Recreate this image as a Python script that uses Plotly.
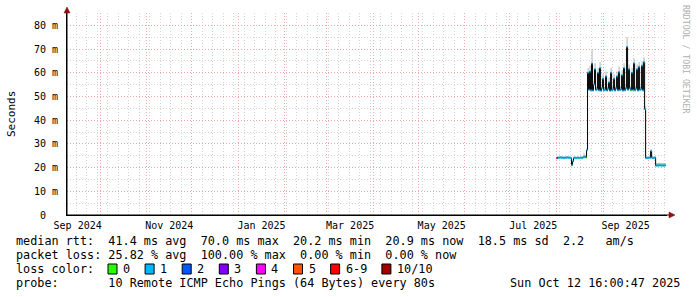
import pandas as pd
import plotly.graph_objects as go

# ---------------- data ----------------
start_time = "2025-08-01 00:00"
step_hours = 16

median_ms = [
    24.0, 24.2, 24.1, 24.2, 24.3, 24.1, 24.2, 24.0, 24.2, 24.1, 24.3, 24.2, 24.1, 24.2, 24.0,
    21.0, 22.6, 24.1, 24.2, 24.0, 24.1, 24.2, 24.0, 24.1, 24.2, 24.0, 24.3, 24.4, 24.6, 24.2, 27.4,
    60.0, 52.8, 60.5, 52.6, 63.9, 52.5, 55.0, 61.5, 52.7, 53.0, 60.0, 52.6, 62.0, 52.4, 53.5,
    57.5, 52.6, 52.8, 58.5, 52.5, 53.2, 56.0, 52.4, 60.0, 52.6, 53.0, 57.5, 52.5, 53.4, 58.5,
    52.6, 60.3, 52.7, 53.0, 59.0, 52.5, 62.0, 52.6, 53.5, 70.9, 52.8, 61.5, 53.4, 52.6, 60.0,
    52.7, 64.0, 52.6, 53.2, 61.5, 52.5, 62.5, 52.8, 53.0, 63.0, 52.6, 64.5, 44.6,
    24.0, 24.1, 24.0, 24.2, 24.1, 27.0, 24.2, 24.0, 24.1, 24.2,
    20.8, 20.9, 20.8, 21.0, 20.9, 20.8, 20.9, 20.8, 20.9, 20.9,
]

smoke_hi_ms = [
    24.6, 24.7, 24.6, 24.7, 24.8, 24.6, 24.7, 24.5, 24.7, 24.6, 24.8, 24.7, 24.6, 24.7, 24.5,
    22.0, 23.4, 24.6, 24.7, 24.5, 24.6, 24.7, 24.5, 24.6, 24.7, 24.5, 24.9, 26.0, 25.2, 24.8, 28.2,
    62.0, 54.0, 63.0, 54.0, 69.5, 54.0, 56.5, 64.0, 54.0, 54.5, 62.0, 54.0, 64.5, 54.0, 55.0,
    59.5, 54.0, 54.0, 60.5, 54.0, 54.5, 58.0, 54.0, 62.0, 54.0, 54.5, 59.5, 54.0, 54.5, 60.5,
    54.0, 62.5, 54.0, 54.5, 61.0, 54.0, 64.0, 54.0, 55.0, 75.0, 54.0, 63.5, 54.5, 54.0, 62.0,
    54.0, 66.0, 54.0, 54.5, 63.5, 54.0, 64.5, 54.0, 54.5, 65.0, 54.0, 66.5, 46.0,
    24.6, 24.7, 24.6, 24.8, 24.7, 27.8, 24.8, 24.6, 24.7, 24.8,
    21.8, 21.9, 21.8, 22.0, 21.9, 21.8, 21.9, 21.8, 21.9, 21.9,
]

# index into loss_labels for every step
loss_class = [
    7, 1, 1, 1, 1, 1, 1, 1, 1, 1, 1, 1, 1, 1, 1,
    1, 1, 1, 1, 1, 1, 1, 0, 1, 1, 1, 1, 1, 1, 0, 1,
    1, 1, 1, 1, 1, 1, 1, 1, 1, 1, 1, 1, 1, 1, 1,
    1, 1, 1, 1, 1, 1, 1, 1, 1, 1, 1, 1, 1, 1, 1,
    1, 1, 1, 1, 1, 1, 1, 1, 1, 1, 1, 1, 1, 0, 1,
    1, 1, 1, 1, 1, 1, 1, 1, 1, 1, 1, 1, 1,
    1, 1, 1, 1, 1, 1, 1, 1, 1, 1,
    1, 1, 1, 1, 1, 0, 1, 1, 1, 1,
]

loss_labels = ["0", "1", "2", "3", "4", "5", "6-9", "10/10"]
loss_colors = ["#26ff00", "#00b8ff", "#0059ff", "#7e00ff", "#ff00ff", "#ff5500", "#ff0000", "#a10000"]

y_tickvals = [0, 10, 20, 30, 40, 50, 60, 70, 80]
y_ticktext = ["0  ", "10 m", "20 m", "30 m", "40 m", "50 m", "60 m", "70 m", "80 m"]

x_label_months = ["2024-09-01", "2024-11-01", "2025-01-01", "2025-03-01",
                  "2025-05-01", "2025-07-01", "2025-09-01"]
x_label_text = ["Sep 2024", "Nov 2024", "Jan 2025", "Mar 2025", "May 2025", "Jul 2025", "Sep 2025"]

x_range = ["2024-09-08 22:00", "2025-10-13 14:00"]
y_range = [0, 85.2]

legend_rtt = "median rtt:  41.4 ms avg  70.0 ms max  20.2 ms min  20.9 ms now  18.5 ms sd  2.2   am/s"
legend_loss = "packet loss: 25.82 % avg  100.00 % max  0.00 % min  0.00 % now"
legend_color = "loss color:"
legend_probe = "probe:       10 Remote ICMP Echo Pings (64 Bytes) every 80s"
stamp_text = "Sun Oct 12 16:00:47 2025"
watermark = "RRDTOOL / TOBI OETIKER"

# ---------------- layout geometry (pixels) ----------------
W, H = 697, 297
L, T = 67, 13
PW, PH = 600, 202
R, B = W - L - PW, H - T - PH

def px_x(px):
    return (px - L) / PW

def px_y(py):
    return (T + PH - py) / PH

MONO = "DejaVu Sans Mono"

# ---------------- build traces ----------------
step = pd.Timedelta(hours=step_hours)
times = pd.date_range(start_time, periods=len(median_ms), freq=f"{step_hours}h")
times_ext = list(times) + [times[-1] + step]
med_ext = median_ms + [median_ms[-1]]
smoke_ext = smoke_hi_ms + [smoke_hi_ms[-1]]

fig = go.Figure()

# smoke (lower bound invisible, upper filled)
fig.add_trace(go.Scatter(x=times_ext, y=med_ext, mode="lines", line=dict(width=0, shape="hv"),
                         hoverinfo="skip", showlegend=False))
fig.add_trace(go.Scatter(x=times_ext, y=smoke_ext, mode="lines", line=dict(width=0, shape="hv"),
                         fill="tonexty", fillcolor="#b4b4b4", hoverinfo="skip", showlegend=False))

# black step line of the median
fig.add_trace(go.Scatter(x=times_ext, y=med_ext, mode="lines",
                         line=dict(color="#000000", width=1, shape="hv"),
                         hoverinfo="skip", showlegend=False))

# loss coloured median bands (horizontal pieces only)
for c, col in enumerate(loss_colors):
    xs, ys = [], []
    for i, v in enumerate(median_ms):
        if loss_class[i] == c:
            xs += [times[i], times[i] + step, None]
            ys += [v, v, None]
    if xs:
        fig.add_trace(go.Scatter(x=xs, y=ys, mode="lines", line=dict(color=col, width=2.2),
                                 hoverinfo="skip", showlegend=False))

# x label positions at mid-month
label_pos = []
for m in x_label_months:
    s = pd.Timestamp(m)
    e = s + pd.offsets.MonthBegin(1)
    label_pos.append(s + (e - s) / 2)

GRID_MAJOR = "#f0a8a8"
GRID_MINOR = "#d6d6d6"

fig.update_layout(
    width=W, height=H,
    margin=dict(l=L, r=R, t=T, b=B, pad=0),
    paper_bgcolor="#ffffff", plot_bgcolor="#ffffff",
    showlegend=False,
    font=dict(family=MONO, size=10, color="#000000"),
    xaxis=dict(
        type="date", range=x_range, tickmode="linear", tick0="2024-09-01", dtick="M1",
        showticklabels=False, ticks="", showgrid=True, gridcolor=GRID_MAJOR, griddash="1px,2px",
        gridwidth=1, zeroline=False, showline=True, linecolor="#000000", linewidth=1,
        minor=dict(tick0="2024-09-01", dtick=7 * 86400000, showgrid=True, gridcolor=GRID_MINOR,
                   griddash="1px,2px", gridwidth=1, ticks=""),
        layer="below traces",
    ),
    xaxis2=dict(
        type="date", overlaying="x", matches="x", anchor="y", side="bottom",
        tickmode="array", tickvals=label_pos, ticktext=x_label_text,
        showgrid=False, showline=False, zeroline=False, ticks="",
        tickfont=dict(family=MONO, size=10, color="#000000"), ticklabelstandoff=3,
    ),
    yaxis=dict(
        range=y_range, tickmode="array", tickvals=y_tickvals,
        ticktext=[t.replace(" ", "\u00a0") for t in y_ticktext],
        showgrid=True, gridcolor=GRID_MAJOR, griddash="1px,2px", gridwidth=1,
        minor=dict(dtick=5, tick0=0, showgrid=True, gridcolor=GRID_MINOR, griddash="1px,2px",
                   gridwidth=1, ticks=""),
        zeroline=False, showline=True, linecolor="#000000", linewidth=1, ticks="",
        tickfont=dict(family=MONO, size=10, color="#000000"), ticklabelstandoff=6,
    ),
)

# dummy trace so xaxis2 is rendered
fig.add_trace(go.Scatter(x=[times[0]], y=[None], xaxis="x2", yaxis="y", showlegend=False,
                         hoverinfo="skip"))

ARROW = "#8b1010"
shapes = [
    # y axis extension + arrow
    dict(type="line", xref="paper", yref="paper", x0=px_x(67), x1=px_x(67), y0=px_y(215), y1=px_y(11),
         line=dict(color="#000000", width=1)),
    dict(type="path", xref="paper", yref="paper",
         path=f"M {px_x(64)} {px_y(13)} L {px_x(70)} {px_y(13)} L {px_x(67)} {px_y(7)} Z",
         fillcolor=ARROW, line=dict(color=ARROW, width=0.5)),
    # x axis extension + arrow
    dict(type="line", xref="paper", yref="paper", x0=px_x(67), x1=px_x(670), y0=px_y(215), y1=px_y(215),
         line=dict(color="#000000", width=1)),
    dict(type="path", xref="paper", yref="paper",
         path=f"M {px_x(669)} {px_y(212)} L {px_x(669)} {px_y(218)} L {px_x(675)} {px_y(215)} Z",
         fillcolor=ARROW, line=dict(color=ARROW, width=0.5)),
]

annotations = []

def add_text(text, px, py, xanchor="left", size=11.8, color="#000000", angle=0, family=MONO):
    annotations.append(dict(
        text=text.replace(" ", "\u00a0"), xref="paper", yref="paper",
        x=px_x(px), y=px_y(py), xanchor=xanchor, yanchor="middle", showarrow=False,
        textangle=angle, borderpad=0, font=dict(family=family, size=size, color=color)))

LINE_Y = [241, 255, 269, 283]
add_text(legend_rtt, 15, LINE_Y[0])
add_text(legend_loss, 15, LINE_Y[1])
add_text(legend_color, 15, LINE_Y[2])
add_text(legend_probe, 15, LINE_Y[3])
add_text(stamp_text, 681, LINE_Y[3], xanchor="right")

# loss colour boxes
CH = 7.1
bx = 108.0
for lab, col in zip(loss_labels, loss_colors):
    shapes.append(dict(type="rect", xref="paper", yref="paper",
                       x0=px_x(bx), x1=px_x(bx + 9), y0=px_y(LINE_Y[2] + 5), y1=px_y(LINE_Y[2] - 5),
                       fillcolor=col, line=dict(color="#000000", width=1)))
    lx = bx + 15
    add_text(lab, lx - 1, LINE_Y[2])
    bx = lx + len(lab) * CH + 15

# axis title and watermark
add_text("Seconds", 11, 114, xanchor="center", size=11, angle=-90)
add_text(watermark, 686, 59, xanchor="center", size=8.2, color="#b0b0b0", angle=90)

fig.update_layout(shapes=shapes, annotations=annotations)

fig.write_html("out.html")
